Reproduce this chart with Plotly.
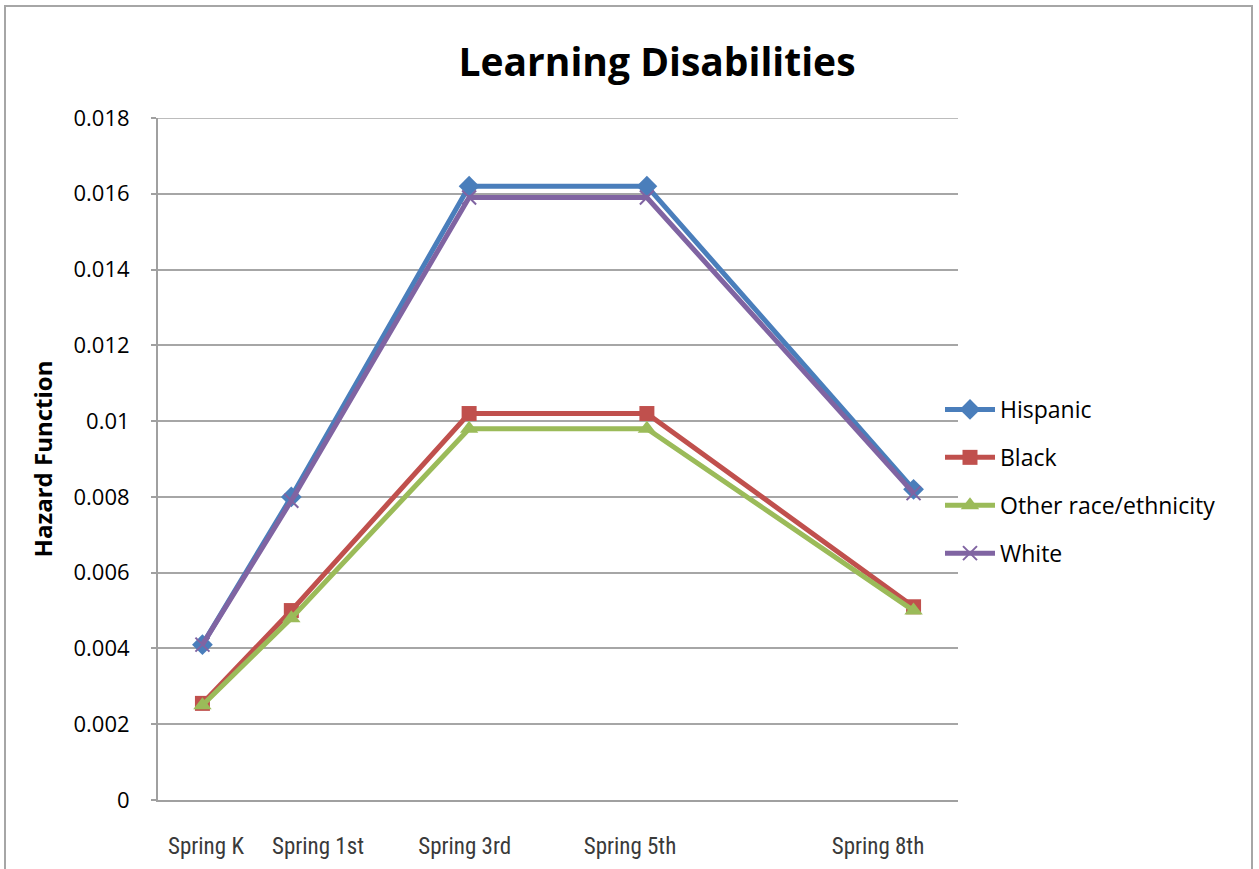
import plotly.graph_objects as go

# Grade of each spring survey wave (K = 0), used as the numeric x position
grades = [0, 1, 3, 5, 8]
wave_labels = ["Spring K", "Spring 1st", "Spring 3rd", "Spring 5th", "Spring 8th"]
# Where the wave labels sit along the grade axis
label_pos = [0.04, 1.3, 2.95, 4.81, 7.6]

hispanic = [0.0041, 0.0080, 0.0162, 0.0162, 0.0082]
black = [0.00255, 0.0050, 0.0102, 0.0102, 0.0051]
other = [0.0025, 0.0048, 0.0098, 0.0098, 0.0050]
white = [0.0041, 0.0079, 0.0159, 0.0159, 0.0081]

y_ticks = [0, 0.002, 0.004, 0.006, 0.008, 0.01, 0.012, 0.014, 0.016, 0.018]
y_tick_text = ["0", "0.002", "0.004", "0.006", "0.008", "0.01", "0.012", "0.014", "0.016", "0.018"]
y_max = 0.018

series = [
    ("Hispanic", hispanic, "#4A7EBB", "diamond", 16, None),
    ("Black", black, "#C0504D", "square", 15, None),
    ("Other race/ethnicity", other, "#9BBB59", "triangle-up", 16, None),
    ("White", white, "#8064A2", "x-thin", 14, 2),
]

fig = go.Figure()
for i, (name, vals, color, symbol, size, mlw) in enumerate(series):
    marker = dict(symbol=symbol, size=size, color=color)
    if mlw:
        marker["line"] = dict(color=color, width=mlw)
    else:
        marker["line"] = dict(width=0)
    fig.add_trace(go.Scatter(
        x=grades, y=vals, name=name, mode="lines+markers",
        line=dict(color=color, width=5),
        marker=marker, legendgroup=f"g{i}",
    ))

L, R, T, B = 158, 958, 118, 800
W, H = 1259, 869
pw, ph = R - L, B - T

fig.update_layout(
    width=W, height=H,
    margin=dict(l=L, r=W - R, t=T, b=H - B, pad=0),
    paper_bgcolor="white", plot_bgcolor="white",
    title=dict(
        text="<b>Learning Disabilities</b>",
        font=dict(family="Open Sans", size=39, color="black"),
        x=(657 - L) / pw, xref="paper", xanchor="center",
        y=1 - 62 / H, yref="container", yanchor="middle",
    ),
    xaxis=dict(
        range=[-0.5, 8.5], tickmode="array", tickvals=label_pos, ticktext=wave_labels,
        showgrid=False, zeroline=False, showline=True, linecolor="#a0a0a0", linewidth=2,
        ticks="", ticklabelstandoff=24, automargin=False,
        tickfont=dict(family="Liberation Sans Narrow, Roboto Condensed, Arial Narrow", size=23, color="#3a3a3a"),
    ),
    yaxis=dict(
        range=[0, y_max], tickmode="array", tickvals=y_ticks, ticktext=y_tick_text,
        showgrid=True, gridcolor="#a6a6a6", gridwidth=1.5, zeroline=False,
        showline=True, linecolor="#a0a0a0", linewidth=2,
        ticks="outside", ticklen=5, tickcolor="#a0a0a0", tickwidth=1.5,
        ticklabelstandoff=17, automargin=False,
        tickfont=dict(family="Open Sans", size=22, color="black"),
        title=dict(text="<b>Hazard Function</b>", standoff=14,
                   font=dict(family="Open Sans", size=24, color="black")),
    ),
    legend=dict(
        x=(940 - L) / pw, xanchor="left", y=(B - 388) / ph, yanchor="top",
        font=dict(family="Open Sans", size=23, color="black"),
        tracegroupgap=15, itemwidth=50, bgcolor="rgba(0,0,0,0)",
    ),
    showlegend=True,
)

# Top gridline at the upper end of the value range
fig.add_shape(
    type="line", xref="paper", yref="y", x0=0, x1=1, y0=y_max, y1=y_max,
    line=dict(color="#a6a6a6", width=1.5), layer="below",
)

# Outer chart border
fig.add_shape(
    type="rect", xref="paper", yref="paper",
    x0=(5 - L) / pw, x1=(1252 - L) / pw,
    y0=(B - 940) / ph, y1=(B - 6) / ph,
    line=dict(color="#a6a6a6", width=2), layer="below",
)

fig.write_html("out.html")
